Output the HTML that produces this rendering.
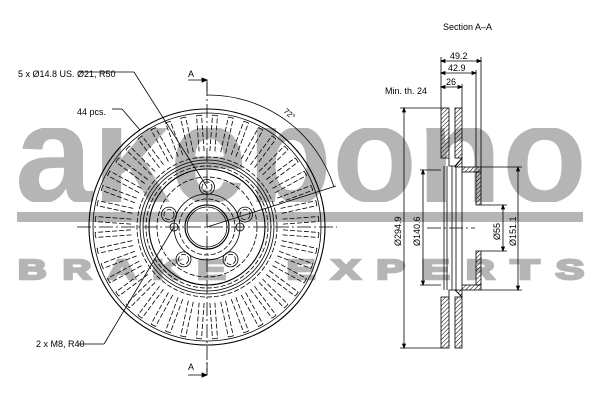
<!DOCTYPE html>
<html><head><meta charset="utf-8"><style>
html,body{margin:0;padding:0;background:#fff;width:600px;height:400px;overflow:hidden}
svg{display:block}
text{font-family:"Liberation Sans",sans-serif}
</style></head><body>
<svg id="s" width="600" height="400" viewBox="0 0 600 400" xmlns="http://www.w3.org/2000/svg">
<defs>
<pattern id="h" width="3" height="3" patternUnits="userSpaceOnUse" patternTransform="rotate(45)"><line x1="0" y1="0" x2="0" y2="3" stroke="#000" stroke-width="1"/></pattern>
<clipPath id="cl"><rect x="0" y="128" width="600" height="74"/></clipPath>
</defs>
<g fill="#b5b5b5">
<text x="15" y="202" font-size="140" font-weight="bold" textLength="572" lengthAdjust="spacingAndGlyphs" clip-path="url(#cl)">akebono</text>
<rect x="17" y="212" width="566" height="10"/>
<g id="be" font-size="28" font-weight="bold" stroke="#b5b5b5" stroke-width="2.5" stroke-linejoin="miter"></g>
</g>
<g id="d" fill="none" stroke="#000" stroke-width="0.8"></g>
<g font-size="9" fill="#000">
<text x="443" y="30">Section A–A</text>
<text x="18" y="77">5 x Ø14.8 US. Ø21, R50</text>
<text x="77" y="115">44 pcs.</text>
<text x="36" y="347">2 x M8, R40</text>
<text x="188" y="77">A</text>
<text x="188" y="370">A</text>
<text x="385" y="94">Min. th. 24</text>
<text x="450" y="59">49.2</text>
<text x="448" y="71">42.9</text>
<text x="446" y="85">26</text>
<text transform="translate(283,112) rotate(40)" font-size="8">72°</text>
<text transform="translate(401,246) rotate(-90)">Ø294.9</text>
<text transform="translate(420,246) rotate(-90)">Ø140.6</text>
<text transform="translate(500,240) rotate(-90)">Ø55</text>
<text transform="translate(516,246) rotate(-90)">Ø151.1</text>
</g>
</svg>
<script>
var t='BRAKE EXPERTS',bo='';
for(var j=0;j<t.length;j++){if(t[j]==' ')continue;var x=18+j*44.8;
 bo+='<text transform="translate('+x.toFixed(1)+',279) scale(1.5,1)" textLength="19" lengthAdjust="spacingAndGlyphs">'+t[j]+'</text>';}
document.getElementById('be').innerHTML=bo;
var g=document.getElementById('d'),cx=207,cy=227,o='';
function L(a,b,c,d,x){o+='<line x1="'+a+'" y1="'+b+'" x2="'+c+'" y2="'+d+'" '+(x||'')+'/>';}
function C(x,y,r,e){o+='<circle cx="'+x+'" cy="'+y+'" r="'+r+'" '+(e||'')+'/>';}
var da='stroke-dasharray="5 2"';
C(cx,cy,118,'stroke-width="1.1"');C(cx,cy,114);
C(cx,cy,70,da);C(cx,cy,67);C(cx,cy,64);C(cx,cy,61,da);C(cx,cy,58,'stroke-width="1.1"');
C(cx,cy,50,da);C(cx,cy,33);C(cx,cy,28,da);C(cx,cy,22,'stroke-width="1.1"');C(cx,cy,20);
for(var i=0;i<44;i++){var a=(i+0.5)*2*Math.PI/44;var c=Math.cos(a),s=Math.sin(a);var px=-s,py=c;
 [-2.5,2.5].forEach(function(w){L((cx+c*76+px*w).toFixed(1),(cy+s*76+py*w).toFixed(1),(cx+c*112+px*w).toFixed(1),(cy+s*112+py*w).toFixed(1),da);});
 o+='<path d="M'+(cx+c*112+px*-2.5).toFixed(1)+' '+(cy+s*112+py*-2.5).toFixed(1)+' L'+(cx+c*112+px*2.5).toFixed(1)+' '+(cy+s*112+py*2.5).toFixed(1)+'"/>';}
for(var k=0;k<5;k++){var a=-Math.PI/2+k*2*Math.PI/5;C((cx+40*Math.cos(a)).toFixed(1),(cy+40*Math.sin(a)).toFixed(1),7.5);C((cx+40*Math.cos(a)).toFixed(1),(cy+40*Math.sin(a)).toFixed(1),5,da);}
C(174,227,4);C(240,227,4);
L(77,227,337,227,'stroke-dasharray="14 3 2 3"');L(cx,82,cx,372,'stroke-dasharray="14 3 2 3"');
L(188,80,207,80);L(207,80,207,92);o+='<path d="M207 80 l-5 -2 v4z" fill="#000"/>';
L(188,375,207,375);L(207,375,207,362);o+='<path d="M207 375 l-5 -2 v4z" fill="#000"/>';
o+='<path d="M207 95 A132 132 0 0 1 334 187"/>';L(cx,cy,336,186);
L(78,72,134,72);L(134,72,207,187);L(112,109,122,109);L(122,109,140,130);
L(78,344,104,344);L(104,344,174,227);
L(441,61,481,61);L(441,73,476,73);L(441,87,462,87);
L(441,57,441,108);L(481,57,481,167);L(476,70,476,167);L(462,84,462,108);
o+='<path d="M441 61 l4 -1.5 v3z M481 61 l-4 -1.5 v3z M441 73 l4 -1.5 v3z M476 73 l-4 -1.5 v3z M441 87 l4 -1.5 v3z M462 87 l-4 -1.5 v3z" fill="#000"/>';
var hs='fill="url(#h)" stroke="#000"';
o+='<rect x="441" y="108" width="8" height="50" '+hs+'/><rect x="455" y="108" width="7" height="50" '+hs+'/>';
o+='<rect x="441" y="297" width="8" height="51" '+hs+'/><rect x="455" y="297" width="7" height="51" '+hs+'/>';
o+='<path d="M449 158 L449 166 L455 166 L462 158" /><path d="M449 297 L449 290 L455 290 L462 297"/>';
o+='<path d="M455 167 L462 158 L462 167 Z" '+hs+'/><path d="M455 290 L462 297 L462 290 Z" '+hs+'/>';
o+='<rect x="462" y="167" width="19" height="5" '+hs+'/><rect x="462" y="285" width="19" height="5" '+hs+'/>';
o+='<rect x="476" y="172" width="5" height="33" '+hs+'/><rect x="476" y="251" width="5" height="34" '+hs+'/>';
L(444,166,444,290);L(447,166,447,290);L(452,166,452,290);L(456,166,456,290);L(462,172,462,285);
L(400,108,441,108);L(400,348,441,348);L(404,108,404,348);
L(420,170,441,170);L(420,285,441,285);L(423,170,423,285);
L(481,205,507,205);L(481,251,507,251);L(503,205,503,251);
L(481,167,522,167);L(481,290,522,290);L(518,167,518,290);
L(427,228,475,228,'stroke-dasharray="14 3 2 3"');
o+='<path d="M404 108 l-1.5 4 h3z M404 348 l-1.5 -4 h3z M423 170 l-1.5 4 h3z M423 285 l-1.5 -4 h3z M503 205 l-1.5 4 h3z M503 251 l-1.5 -4 h3z M518 167 l-1.5 4 h3z M518 290 l-1.5 -4 h3z" fill="#000"/>';
g.innerHTML=o;
</script>
</body></html>
